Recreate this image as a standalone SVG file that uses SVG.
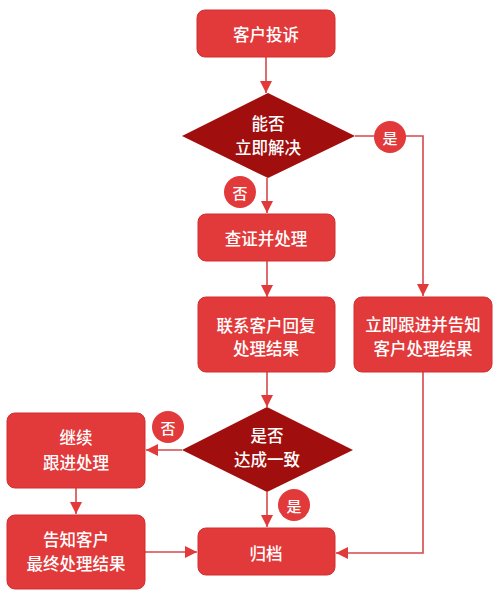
<svg xmlns="http://www.w3.org/2000/svg" width="500" height="602" viewBox="0 0 500 602">
<style>
.box{fill:#e2393a;stroke:#d32f2f;stroke-width:1}
.dia{fill:#a10e0e}
.lab{fill:#e2393a}
.t{font-family:"Noto Sans CJK SC","Noto Sans",sans-serif;font-size:16.5px;font-weight:500;fill:#fff;text-anchor:middle;dominant-baseline:central}
.c{font-size:15px}
.ln{fill:none;stroke:#d5484a;stroke-width:1.6}
</style>
<defs>
<marker id="ah" markerUnits="userSpaceOnUse" markerWidth="14" markerHeight="14" refX="12" refY="6" orient="auto">
<path d="M0,0 L12,6 L0,12 Z" fill="#e2393a"/>
</marker>
</defs>
<rect width="500" height="602" fill="#fff"/>
<g id="connectors">
<path class="ln" d="M266,57 V93" marker-end="url(#ah)"/>
<path class="ln" d="M355,136 H423 V296" marker-end="url(#ah)"/>
<path class="ln" d="M267,178 V213" marker-end="url(#ah)"/>
<path class="ln" d="M267,261 V297" marker-end="url(#ah)"/>
<path class="ln" d="M267,372 V407" marker-end="url(#ah)"/>
<path class="ln" d="M182,450 H146" marker-end="url(#ah)"/>
<path class="ln" d="M76,488 V514" marker-end="url(#ah)"/>
<path class="ln" d="M145,552 H197" marker-end="url(#ah)"/>
<path class="ln" d="M267,492 V527" marker-end="url(#ah)"/>
<path class="ln" d="M423,372 V553 H336" marker-end="url(#ah)"/>
</g>
<g id="n1"><rect class="box" x="197" y="10" width="138" height="47" rx="8"/><text class="t" x="266" y="34">客户投诉</text></g>
<g id="d1"><polygon class="dia" points="268,93 355,136 268,178 182,136"/><text class="t" x="268" y="123">能否</text><text class="t" x="268" y="147">立即解决</text></g>
<g id="yes1"><circle class="lab" cx="390" cy="137" r="16"/><text class="t c" x="390" y="137">是</text></g>
<g id="no1"><circle class="lab" cx="240" cy="192" r="16"/><text class="t c" x="240" y="192">否</text></g>
<g id="n2"><rect class="box" x="198" y="214" width="137" height="47" rx="8"/><text class="t" x="266" y="238">查证并处理</text></g>
<g id="n3"><rect class="box" x="198" y="297" width="137" height="75" rx="8"/><text class="t" x="266" y="325">联系客户回复</text><text class="t" x="266" y="348">处理结果</text></g>
<g id="n4"><rect class="box" x="354" y="297" width="138" height="75" rx="8"/><text class="t" x="423" y="324">立即跟进并告知</text><text class="t" x="423" y="348">客户处理结果</text></g>
<g id="d2"><polygon class="dia" points="267,407 353,450 267,492 182,450"/><text class="t" x="267" y="435">是否</text><text class="t" x="267" y="459">达成一致</text></g>
<g id="no2"><circle class="lab" cx="168" cy="427" r="16"/><text class="t c" x="168" y="427">否</text></g>
<g id="yes2"><circle class="lab" cx="294" cy="505" r="16"/><text class="t c" x="294" y="505">是</text></g>
<g id="n5"><rect class="box" x="7" y="413" width="138" height="75" rx="8"/><text class="t" x="76" y="437">继续</text><text class="t" x="76" y="462">跟进处理</text></g>
<g id="n6"><rect class="box" x="7" y="515" width="138" height="74" rx="8"/><text class="t" x="76" y="539">告知客户</text><text class="t" x="76" y="563">最终处理结果</text></g>
<g id="n7"><rect class="box" x="198" y="528" width="137" height="47" rx="8"/><text class="t" x="266" y="553">归档</text></g>
</svg>
